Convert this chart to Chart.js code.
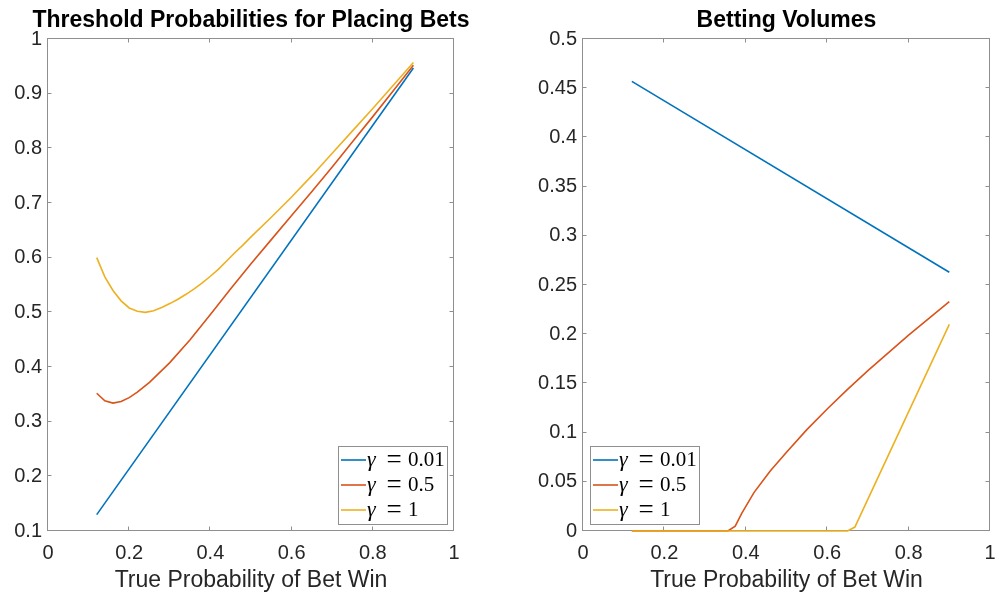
<!DOCTYPE html>
<html lang="en">
  <head>
    <meta charset="UTF-8" />
    <title>Threshold Probabilities and Betting Volumes</title>
    <script src="https://cdn.jsdelivr.net/npm/chart.js"></script>
    <style>
      html, body { margin: 0; padding: 0; background: #fff; overflow: hidden; }
      body { width: 995px; height: 599px; position: relative; }
      .panel { position: absolute; top: 0; height: 599px; }
      #left { left: 0; width: 502px; }
      #right { left: 497px; width: 579px; }
    </style>
  </head>
  <body>
    <div class="panel" id="left"><canvas id="thresholdChart"></canvas></div>
    <div class="panel" id="right"><canvas id="volumeChart"></canvas></div>

    <script>
      const xTicks = [0, 0.2, 0.4, 0.6, 0.8, 1];
      const thresholdYTicks = [0.1, 0.2, 0.3, 0.4, 0.5, 0.6, 0.7, 0.8, 0.9, 1];
      const volumeYTicks = [0, 0.05, 0.1, 0.15, 0.2, 0.25, 0.3, 0.35, 0.4, 0.45, 0.5];

      const gammaValues = ["0.01", "0.5", "1"];
      const lineColors = ["#0072BD", "#D95319", "#EDB120"];

      // threshold probabilities (left)
      const thrBlueX = [0.12, 0.9];
      const thrBlueY = [0.13, 0.947];
      const thrRedX = [0.12, 0.14, 0.16, 0.18, 0.2, 0.22, 0.25, 0.3, 0.35, 0.4, 0.45, 0.5, 0.55, 0.6, 0.65, 0.7, 0.75, 0.8, 0.85, 0.9];
      const thrRedY = [0.352, 0.338, 0.334, 0.337, 0.344, 0.354, 0.372, 0.408, 0.45, 0.496, 0.543, 0.589, 0.633, 0.677, 0.721, 0.766, 0.812, 0.858, 0.905, 0.952];
      const thrYellowX = [0.12, 0.14, 0.16, 0.18, 0.2, 0.22, 0.24, 0.26, 0.28, 0.3, 0.32, 0.34, 0.36, 0.38, 0.4, 0.42, 0.44, 0.46, 0.48, 0.5, 0.55, 0.6, 0.65, 0.7, 0.75, 0.8, 0.85, 0.9];
      const thrYellowY = [0.6, 0.565, 0.54, 0.521, 0.508, 0.502, 0.5, 0.503, 0.509, 0.516, 0.524, 0.533, 0.543, 0.554, 0.566, 0.579, 0.594, 0.609, 0.623, 0.638, 0.674, 0.711, 0.75, 0.791, 0.832, 0.873, 0.915, 0.957];

      // betting volumes (right)
      const volBlueX = [0.12, 0.9];
      const volBlueY = [0.457, 0.263];
      const volRedX = [0.12, 0.356, 0.374, 0.39, 0.42, 0.46, 0.5, 0.55, 0.6, 0.65, 0.7, 0.75, 0.8, 0.85, 0.9];
      const volRedY = [0, 0, 0.005, 0.018, 0.039, 0.061, 0.08, 0.103, 0.124, 0.144, 0.163, 0.181, 0.199, 0.216, 0.233];
      const volYellowX = [0.12, 0.65, 0.668, 0.9];
      const volYellowY = [0, 0, 0.004, 0.21];

      Chart.defaults.font.family = "'Liberation Sans', Arial, sans-serif";
      Chart.defaults.color = "#262626";

      const pts = (xs, ys) => xs.map((x, i) => ({ x: x, y: ys[i] }));
      const fmt = (v) => String(+Number(v).toFixed(2));

      // MATLAB style box with inward ticks + legend inside the axes
      const axesPlugin = {
        id: "axesBox",
        beforeDatasetsDraw(chart) {
          const { ctx, chartArea: a } = chart;
          const xs = chart.scales.x, ys = chart.scales.y;
          const L = Math.round(a.left) - 0.5, R = Math.round(a.right) - 0.5;
          const T = Math.round(a.top) - 0.5, B = Math.round(a.bottom) - 0.5;
          ctx.save();
          ctx.strokeStyle = "#8f8f8f";
          ctx.lineWidth = 1;
          ctx.strokeRect(L, T, R - L, B - T);
          ctx.beginPath();
          xs.ticks.forEach((t) => {
            const px = Math.round(xs.getPixelForValue(t.value)) - 0.5;
            ctx.moveTo(px, B); ctx.lineTo(px, B - 4);
            ctx.moveTo(px, T); ctx.lineTo(px, T + 4);
          });
          ys.ticks.forEach((t) => {
            const py = Math.round(ys.getPixelForValue(t.value)) - 0.5;
            ctx.moveTo(L, py); ctx.lineTo(L + 4, py);
            ctx.moveTo(R, py); ctx.lineTo(R - 4, py);
          });
          ctx.stroke();
          ctx.restore();
        },
        afterDatasetsDraw(chart, args, opts) {
          const { ctx, chartArea: a } = chart;
          const w = 109, h = 78, rowH = 25;
          const x0 = opts.corner === "right" ? Math.round(a.right) - 7 - w : Math.round(a.left) + 7;
          const y0 = Math.round(a.bottom) - 7 - h;
          ctx.save();
          ctx.fillStyle = "#fff";
          ctx.fillRect(x0, y0, w, h);
          ctx.strokeStyle = "#8f8f8f";
          ctx.lineWidth = 1;
          ctx.strokeRect(x0 + 0.5, y0 + 0.5, w, h);
          ctx.textBaseline = "middle";
          ctx.fillStyle = "#000";
          chart.data.datasets.forEach((ds, i) => {
            const cy = y0 + 14 + i * rowH;
            ctx.strokeStyle = ds.borderColor;
            ctx.lineWidth = 1.6;
            ctx.beginPath();
            ctx.moveTo(x0 + 3, cy);
            ctx.lineTo(x0 + 28, cy);
            ctx.stroke();
            ctx.textAlign = "left";
            ctx.font = "italic 22px 'Liberation Serif', serif";
            ctx.fillText("\u03b3", x0 + 29, cy);
            ctx.textAlign = "center";
            ctx.font = "27px 'Liberation Serif', serif";
            ctx.fillText("=", x0 + 56, cy + 1);
            ctx.textAlign = "left";
            ctx.font = "21px 'Liberation Serif', serif";
            ctx.fillText(ds.gamma, x0 + 70, cy);
          });
          ctx.restore();
        },
      };

      function makeChart(canvasId, title, series, yTicks, yWidth, corner) {
        return new Chart(document.getElementById(canvasId), {
          type: "scatter",
          data: {
            datasets: series.map((s, i) => ({
              label: "\u03b3 = " + gammaValues[i],
              gamma: gammaValues[i],
              data: s,
              showLine: true,
              borderColor: lineColors[i],
              backgroundColor: lineColors[i],
              borderWidth: 1.6,
              pointRadius: 0,
              tension: 0,
              clip: false,
              order: 3 - i,
            })),
          },
          options: {
            responsive: true,
            maintainAspectRatio: false,
            animation: false,
            layout: { padding: 0 },
            plugins: {
              legend: { display: false },
              tooltip: { enabled: false },
              title: {
                display: true,
                text: title,
                color: "#000",
                font: { size: 23, weight: "bold" },
                padding: { top: 7, bottom: 4.4 },
              },
              axesBox: { corner: corner },
            },
            scales: {
              x: {
                type: "linear",
                min: 0,
                max: 1,
                grid: { display: false, drawTicks: false },
                border: { display: false },
                afterBuildTicks: (s) => { s.ticks = xTicks.map((v) => ({ value: v })); },
                afterFit: (s) => { s.height = 68; },
                ticks: { font: { size: 20 }, padding: 10, maxRotation: 0, callback: fmt },
                title: {
                  display: true,
                  text: "True Probability of Bet Win",
                  font: { size: 23 },
                  padding: { top: 5, bottom: 5 },
                },
              },
              y: {
                min: yTicks[0],
                max: yTicks[yTicks.length - 1],
                grid: { display: false, drawTicks: false },
                border: { display: false },
                afterBuildTicks: (s) => { s.ticks = yTicks.map((v) => ({ value: v })); },
                afterFit: (s) => { s.width = yWidth; },
                ticks: { font: { size: 20 }, padding: 6, callback: fmt },
              },
              // empty right axis so the plot (and title) sit centred in the canvas
              y2: {
                position: "right",
                min: 0,
                max: 1,
                grid: { display: false, drawTicks: false },
                border: { display: false },
                ticks: { display: false },
                afterFit: (s) => { s.width = yWidth; },
              },
            },
          },
          plugins: [axesPlugin],
        });
      }

      const thresholdChart = makeChart(
        "thresholdChart",
        "Threshold Probabilities for Placing Bets",
        [pts(thrBlueX, thrBlueY), pts(thrRedX, thrRedY), pts(thrYellowX, thrYellowY)],
        thresholdYTicks,
        48,
        "right"
      );

      const volumeChart = makeChart(
        "volumeChart",
        "Betting Volumes",
        [pts(volBlueX, volBlueY), pts(volRedX, volRedY), pts(volYellowX, volYellowY)],
        volumeYTicks,
        86,
        "left"
      );
    </script>
  </body>
</html>
